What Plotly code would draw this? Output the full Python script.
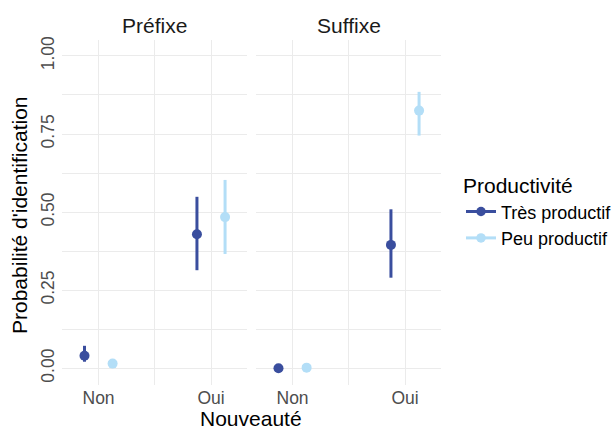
import plotly.graph_objects as go

# ---- data ----
panels = ["Préfixe", "Suffixe"]
categories = ["Non", "Oui"]
groups = ["Très productif", "Peu productif"]
colors = ["#3A4E9E", "#B3DEF7"]

# estimates[panel][group] -> values per category
est = {
    "Préfixe": {"Très productif": [0.040, 0.429], "Peu productif": [0.015, 0.484]},
    "Suffixe": {"Très productif": [0.000, 0.395], "Peu productif": [0.002, 0.825]},
}
lower = {
    "Préfixe": {"Très productif": [0.021, 0.314], "Peu productif": [0.012, 0.366]},
    "Suffixe": {"Très productif": [0.000, 0.290], "Peu productif": [0.000, 0.745]},
}
upper = {
    "Préfixe": {"Très productif": [0.072, 0.549], "Peu productif": [0.019, 0.603]},
    "Suffixe": {"Très productif": [0.002, 0.509], "Peu productif": [0.006, 0.885]},
}
y_ticks = [0.0, 0.25, 0.5, 0.75, 1.0]
y_ticktext = ["0.00", "0.25", "0.50", "0.75", "1.00"]

FONT = "Liberation Sans, Arial, sans-serif"
W, H = 614, 429
dodge = 0.125

fig = go.Figure()
for pi, panel in enumerate(panels):
    xa = "x" if pi == 0 else "x2"
    ya = "y" if pi == 0 else "y2"
    for gi, g in enumerate(groups):
        off = -dodge if gi == 0 else dodge
        xs = [i + 1 + off for i in range(len(categories))]
        ys = est[panel][g]
        up = [u - v for u, v in zip(upper[panel][g], ys)]
        dn = [v - l for l, v in zip(lower[panel][g], ys)]
        fig.add_trace(go.Scatter(
            x=xs, y=ys, mode="markers", xaxis=xa, yaxis=ya,
            marker=dict(color=colors[gi], size=10),
            error_y=dict(type="data", array=up, arrayminus=dn, symmetric=False,
                         color=colors[gi], thickness=3, width=0),
            showlegend=False, hoverinfo="skip"))

# legend entries
for gi, g in enumerate(groups):
    fig.add_trace(go.Scatter(
        x=[None], y=[None], mode="lines+markers", name=g,
        line=dict(color=colors[gi], width=3),
        marker=dict(color=colors[gi], size=9.5)))

grid = "#EBEBEB"
xdom1 = [62 / W, 247 / W]
xdom2 = [256 / W, 441 / W]
ydom = [1 - 385 / H, 1 - 40 / H]
xcommon = dict(
    range=[0.675, 2.32], tickmode="array", tickvals=[1, 2], ticktext=categories,
    showgrid=True, gridcolor=grid, gridwidth=1.1, zeroline=False, showline=False,
    ticks="", tickfont=dict(family=FONT, size=17.5, color="#4D4D4D"),
    minor=dict(tickmode="array", tickvals=[1.5], showgrid=True, gridcolor=grid, gridwidth=0.8),
    fixedrange=True, automargin=False,
)
ycommon = dict(
    range=[-0.0535, 1.051], tickmode="array", tickvals=y_ticks, ticktext=y_ticktext,
    showgrid=True, gridcolor=grid, gridwidth=1.1, zeroline=False, showline=False,
    ticks="", tickfont=dict(family=FONT, size=17.5, color="#4D4D4D"), tickangle=-90,
    minor=dict(tickmode="array", tickvals=[0.125, 0.375, 0.625, 0.875], showgrid=True,
               gridcolor=grid, gridwidth=0.8),
    fixedrange=True, automargin=False,
)

fig.update_layout(
    width=W, height=H,
    margin=dict(l=0, r=0, t=0, b=0, autoexpand=False),
    paper_bgcolor="white", plot_bgcolor="white",
    font=dict(family=FONT, color="#000000"),
    xaxis=dict(domain=xdom1, anchor="y", **xcommon),
    xaxis2=dict(domain=xdom2, anchor="y2", **xcommon),
    yaxis=dict(domain=ydom, anchor="x", ticklabelstandoff=4, **ycommon),
    yaxis2=dict(domain=ydom, anchor="x2", matches="y", showticklabels=False,
                **{k: v for k, v in ycommon.items() if k not in ("tickfont", "tickangle")}),
    legend=dict(
        x=461 / W, y=1 - 166 / H, xanchor="left", yanchor="top",
        title=dict(text="Productivité", font=dict(family=FONT, size=21, color="#000000")),
        font=dict(family=FONT, size=18, color="#000000"),
        bgcolor="rgba(0,0,0,0)", borderwidth=0, tracegroupgap=0,
    ),
    showlegend=True,
)

annotations = []
for pi, panel in enumerate(panels):
    annotations.append(dict(
        text=panel, xref="x domain" if pi == 0 else "x2 domain", x=0.5,
        yref="paper", y=1 - 25 / H, xanchor="center", yanchor="middle",
        showarrow=False, font=dict(family=FONT, size=21, color="#1A1A1A")))
annotations.append(dict(
    text="Nouveauté", xref="paper", x=251 / W, yref="paper", y=1 - 418 / H,
    xanchor="center", yanchor="middle", showarrow=False,
    font=dict(family=FONT, size=21, color="#000000")))
annotations.append(dict(
    text="Probabilité d'identification", xref="paper", x=19 / W, yref="paper",
    y=1 - 215 / H, xanchor="center", yanchor="middle", textangle=-90,
    showarrow=False, font=dict(family=FONT, size=21, color="#000000")))
fig.update_layout(annotations=annotations)

fig.write_html("out.html")
